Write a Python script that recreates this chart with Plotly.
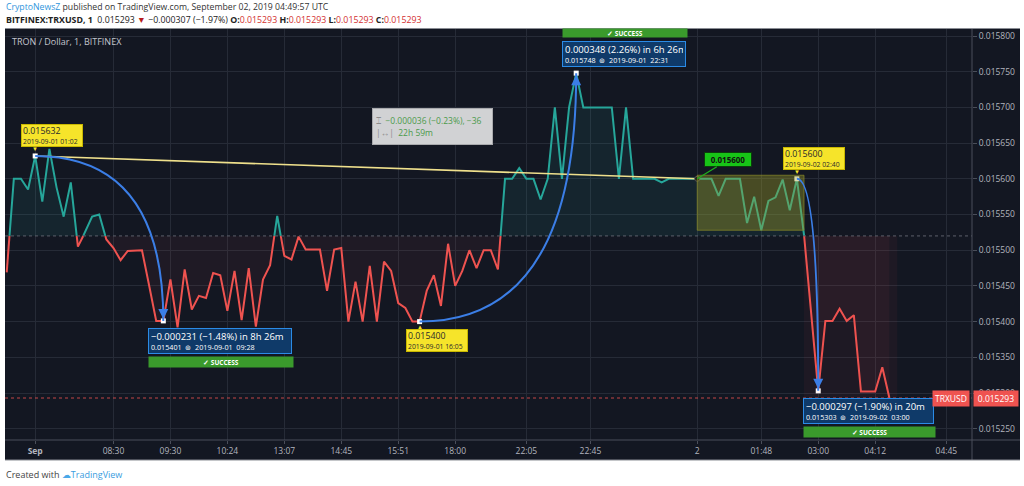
import plotly.graph_objects as go

# ---------------- data ----------------
prices = [
    0.015469, 0.015600, 0.015600, 0.015585, 0.015632, 0.015568, 0.015642, 0.015588, 0.015547, 0.015595,
    0.015505, 0.015525, 0.015547, 0.015550, 0.015515, 0.015503, 0.015486, 0.015499, 0.015500, 0.015500,
    0.015451, 0.015401, 0.015401, 0.015459, 0.015392, 0.015473, 0.015417, 0.015436, 0.015433, 0.015468,
    0.015465, 0.015415, 0.015471, 0.015402, 0.015475, 0.015393, 0.015459, 0.015479, 0.015548, 0.015492,
    0.015487, 0.015519, 0.015501, 0.015501, 0.015501, 0.015443, 0.015501, 0.015503, 0.015400, 0.015456,
    0.015400, 0.015478, 0.015400, 0.015484, 0.015471, 0.015426, 0.015419, 0.015400, 0.015400, 0.015443,
    0.015465, 0.015422, 0.015509, 0.015450, 0.015471, 0.015500, 0.015475, 0.015500, 0.015500, 0.015473,
    0.015600, 0.015600, 0.015615, 0.015600, 0.015600, 0.015571, 0.015600, 0.015700, 0.015600, 0.015700,
    0.015748, 0.015700, 0.015700, 0.015700, 0.015700, 0.015700, 0.015600, 0.015700, 0.015600, 0.015600,
    0.015600, 0.015600, 0.015595, 0.015600, 0.015600, 0.015600, 0.015600, 0.015600, 0.015600, 0.015600,
    0.015576, 0.015600, 0.015600, 0.015600, 0.015538, 0.015575, 0.015528, 0.015569, 0.015574, 0.015599,
    0.015556, 0.015600, 0.015522, 0.015416, 0.015303, 0.015401, 0.015401, 0.015418, 0.015401, 0.015409,
    0.015302, 0.015302, 0.015302, 0.015336, 0.015293,
]
bar_index = list(range(len(prices)))

x_tick_index = [4, 15, 23, 31, 39, 47, 55, 63, 73, 82, 97, 106, 114, 122, 132]
x_tick_labels = ["<b>Sep</b>", "08:30", "09:30", "10:24", "13:07", "14:45", "15:51", "18:00",
                 "22:05", "22:45", "2", "01:48", "03:00", "04:12", "04:45"]
y_tick_values = [0.01525, 0.01530, 0.01535, 0.01540, 0.01545, 0.01550,
                 0.01555, 0.01560, 0.01565, 0.01570, 0.01575, 0.01580]

baseline_price = 0.01552
trend_points = [4, 97]                         # trend line from / to bar
curve_pairs = [(4, 22), (58, 80), (111, 114)]  # curved arrows (from bar, to bar)
rect_bars = [97, 112]
rect_prices = [0.015528, 0.015605]
red_zone_bars = [112, 125.1]

# ---------------- styles ----------------
BG = "#131722"
GRID = "#262b37"
TXT = "#b2b5be"
TEAL = "#26a69a"
RED = "#ef5350"
BLUE = "#3b7ee6"
YEL = "#f6e42a"
FONT = "Open Sans"

X0, X1 = -0.24, 135.6
Y0, Y1 = 0.0152342, 0.0158112
L, R, T, B = 5, 52, 28, 46
W, H = 1024, 486
PW, PH = W - L - R, H - T - B


def px(xp):   # pixel -> paper x
    return (xp - L) / PW


def py(yp):   # pixel -> paper y
    return (H - B - yp) / PH


# ------------- split line at the baseline -------------
xa, ya = [], []
for i in range(len(prices)):
    xa.append(bar_index[i]); ya.append(prices[i])
    if i < len(prices) - 1:
        a, b = prices[i], prices[i + 1]
        if (a - baseline_price) * (b - baseline_price) < 0:
            t = (baseline_price - a) / (b - a)
            xa.append(bar_index[i] + t); ya.append(baseline_price)

upper = [max(v, baseline_price) for v in ya]
lower = [min(v, baseline_price) for v in ya]
up_line = [v if v >= baseline_price else None for v in ya]
lo_line = [v if v <= baseline_price else None for v in ya]
base_arr = [baseline_price] * len(xa)

fig = go.Figure()
fig.add_trace(go.Scatter(x=xa, y=base_arr, mode="lines", line=dict(width=0), hoverinfo="skip", showlegend=False))
fig.add_trace(go.Scatter(x=xa, y=upper, mode="lines", line=dict(width=0), fill="tonexty",
                         fillcolor="rgba(38,166,154,0.10)", hoverinfo="skip", showlegend=False))
fig.add_trace(go.Scatter(x=xa, y=base_arr, mode="lines", line=dict(width=0), hoverinfo="skip", showlegend=False))
fig.add_trace(go.Scatter(x=xa, y=lower, mode="lines", line=dict(width=0), fill="tonexty",
                         fillcolor="rgba(239,83,80,0.06)", hoverinfo="skip", showlegend=False))
fig.add_trace(go.Scatter(x=xa, y=up_line, mode="lines", line=dict(color=TEAL, width=2),
                         hoverinfo="skip", showlegend=False))
fig.add_trace(go.Scatter(x=xa, y=lo_line, mode="lines", line=dict(color=RED, width=2),
                         hoverinfo="skip", showlegend=False))

# trend line
fig.add_trace(go.Scatter(x=[bar_index[i] for i in trend_points], y=[prices[i] for i in trend_points],
                         mode="lines", line=dict(color="#efe08c", width=1.6), hoverinfo="skip", showlegend=False))

shapes = []
shapes.append(dict(type="rect", xref="paper", yref="paper", x0=px(5), x1=px(1020), y0=py(460), y1=py(28),
                   fillcolor=BG, line=dict(width=0), layer="below"))
shapes.append(dict(type="line", xref="paper", yref="y", x0=0, x1=1, y0=baseline_price, y1=baseline_price,
                   line=dict(color="#5d606b", width=1, dash="dot")))
shapes.append(dict(type="line", xref="paper", yref="y", x0=0, x1=1, y0=prices[-1], y1=prices[-1],
                   line=dict(color="rgba(239,83,80,0.8)", width=1, dash="dot")))
shapes.append(dict(type="rect", xref="x", yref="y", x0=red_zone_bars[0], x1=red_zone_bars[1],
                   y0=prices[-1], y1=baseline_price, fillcolor="rgba(239,83,80,0.05)", line=dict(width=0)))
shapes.append(dict(type="rect", xref="x", yref="y", x0=rect_bars[0], x1=rect_bars[1],
                   y0=rect_prices[0], y1=rect_prices[1], fillcolor="rgba(160,160,40,0.38)",
                   line=dict(color="rgba(140,140,40,0.7)", width=1), layer="above"))
for a, b in curve_pairs:
    x0, y0, x1, y1 = bar_index[a], prices[a], bar_index[b], prices[b]
    shapes.append(dict(type="path", xref="x", yref="y",
                       path=f"M {x0},{y0} Q {x1},{y0} {x1},{y1}",
                       line=dict(color=BLUE, width=2)))
shapes.append(dict(type="line", xref="paper", yref="paper", x0=px(5), x1=px(1020), y0=0, y1=0,
                   line=dict(color="#4a4e5a", width=1)))
shapes.append(dict(type="line", xref="paper", yref="paper", x0=1, x1=1, y0=py(460), y1=py(28),
                   line=dict(color="#4a4e5a", width=1)))
shapes.append(dict(type="line", xref="paper", yref="paper", x0=px(5), x1=px(1020), y0=py(28.5), y1=py(28.5),
                   line=dict(color="#8a8d94", width=1)))
shapes.append(dict(type="line", xref="paper", yref="paper", x0=px(5), x1=px(1020), y0=py(460), y1=py(460),
                   line=dict(color="#8a8d94", width=1)))

key_bars = [4, 22, 58, 80, 111, 114]
fig.add_trace(go.Scatter(x=[bar_index[i] for i in key_bars], y=[prices[i] for i in key_bars], mode="markers",
                         marker=dict(color="white", size=5, symbol="square"), hoverinfo="skip", showlegend=False))
fig.add_trace(go.Scatter(x=[bar_index[97]], y=[prices[97]], mode="markers",
                         marker=dict(color="#111", size=5, line=dict(color="#555", width=1)),
                         hoverinfo="skip", showlegend=False))

ann = []


def blue_box(bar, text, sub, width, below, success_width):
    x, y = bar_index[bar], prices[bar]
    body = (f"<span style='font-size:9.5px'>{text}</span><br>"
            f"<span style='font-size:7.2px'>{sub}</span>")
    common = dict(x=x, y=y, xref="x", yref="y", xanchor="left", showarrow=False, align="left",
                  valign="middle", bgcolor="#0f3a69", bordercolor="#2b8be6", borderwidth=1, borderpad=2,
                  width=width, height=20, text=body, font=dict(color="white", size=8.2, family=FONT))
    sc = dict(x=x, y=y, xref="x", yref="y", xanchor="left", text="<b>✓ SUCCESS</b>", showarrow=False,
              bgcolor="#3a9a2c", borderpad=1, width=success_width, font=dict(color="white", size=6.5, family=FONT))
    if below:
        ann.append(dict(common, yanchor="top", xshift=-15, yshift=-7))
        ann.append(dict(sc, yanchor="top", xshift=-15, yshift=-35.5, height=8))
    else:
        ann.append(dict(common, yanchor="bottom", xshift=-14, yshift=6.5))
        ann.append(dict(sc, yanchor="bottom", xshift=-14, yshift=35.5, height=6))


blue_box(22, "−0.000231 (−1.48%) in 8h 26m", "0.015401  ⊚  2019-09-01  09:28", 138, True, 142)
blue_box(80, "0.000348 (2.26%) in 6h 26m", "0.015748  ⊚  2019-09-01  22:31", 118, False, 122)
blue_box(114, "−0.000297 (−1.90%) in 20m", "0.015303  ⊚  2019-09-02  03:00", 125, True, 129)


def yellow_label(bar, date, above):
    x, y = bar_index[bar], prices[bar]
    ann.append(dict(x=x, y=y, xref="x", yref="y", xanchor="left",
                    yanchor="bottom" if above else "top", xshift=-14, yshift=8.5 if above else -7.7,
                    text=(f"<span style='font-size:8.8px'>{prices[bar]:.6f}</span><br>"
                          f"<span style='font-size:6.8px'>{date}</span>"),
                    showarrow=False, align="left", valign="middle", bgcolor=YEL, bordercolor="#c9b800",
                    borderwidth=1, borderpad=1, width=58, height=19,
                    font=dict(color="#2a2a2a", size=7.6, family=FONT)))
    ann.append(dict(x=x, y=y, xref="x", yref="y", text="▼" if above else "▲", showarrow=False,
                    yshift=6.5 if above else -5.5, font=dict(color=YEL, size=6)))


yellow_label(4, "2019-09-01 01:02", True)
yellow_label(58, "2019-09-01 16:05", False)
yellow_label(111, "2019-09-02 02:40", True)

for a, b in curve_pairs:
    up = prices[b] > prices[a]
    ann.append(dict(x=bar_index[b], y=prices[b], xref="x", yref="y", text="", showarrow=True,
                    ax=0, ay=12 if up else -12, arrowhead=2, arrowsize=1, arrowwidth=2,
                    arrowcolor=BLUE, standoff=2))

ann.append(dict(x=bar_index[97], y=prices[97], xref="x", yref="y", text="<b>0.015600</b>", showarrow=True,
                ax=31, ay=-19, arrowhead=0, arrowwidth=1.3, arrowcolor="#1fae1f", xanchor="center",
                yanchor="middle", bgcolor="#17c417", bordercolor="#0c3d0c", borderwidth=1, borderpad=1,
                width=44, font=dict(color="#111", size=8, family=FONT)))

ann.append(dict(x=51.3, y=0.015699, xref="x", yref="y", xanchor="left", yanchor="top",
                text=("<span style='color:#8c8c8c'>⌶</span>  −0.000036 (−0.23%), −36<br>"
                      "<span style='color:#8c8c8c'>|↔|</span>  22h 59m"),
                showarrow=False, align="left", valign="middle", bgcolor="#d1d2d4", bordercolor="#a9aaad",
                borderwidth=1, borderpad=3, width=113, height=29,
                font=dict(color="#4b9a4b", size=8.5, family=FONT)))

ann.append(dict(x=px(970), y=prices[-1], xref="paper", yref="y", xanchor="right", yanchor="middle",
                text="TRXUSD", showarrow=False, bgcolor=RED, borderpad=2,
                font=dict(color="white", size=8.5, family=FONT)))
ann.append(dict(x=px(973), y=prices[-1], xref="paper", yref="y", xanchor="left", yanchor="middle",
                text="0.015293", showarrow=False, bgcolor=RED, borderpad=2, width=40,
                font=dict(color="white", size=8.5, family=FONT)))

ann.append(dict(x=px(10), y=py(42), xref="paper", yref="paper", xanchor="left", yanchor="middle",
                text="TRON / Dollar, 1, BITFINEX", showarrow=False,
                font=dict(color="#c3c6ce", size=9, family=FONT)))
ann.append(dict(x=px(4), y=py(7), xref="paper", yref="paper", xanchor="left", yanchor="middle",
                text="<span style='color:#2f95dc'>CryptoNewsZ</span> published on TradingView.com, September 02, 2019 04:49:57 UTC",
                showarrow=False, font=dict(color="#333", size=8.7, family=FONT)))
val = "<span style='color:#d32f2f'>0.015293</span>"
ann.append(dict(x=px(4), y=py(20), xref="paper", yref="paper", xanchor="left", yanchor="middle",
                text=(f"<b>BITFINEX:TRXUSD, 1</b>  0.015293 <span style='color:#b71c1c'>▼</span> −0.000307 (−1.97%) "
                      f"<b>O:</b>{val} <b>H:</b>{val} <b>L:</b>{val} <b>C:</b>{val}"),
                showarrow=False, font=dict(color="#222", size=8.8, family=FONT)))
ann.append(dict(x=px(4), y=py(474), xref="paper", yref="paper", xanchor="left", yanchor="middle",
                text=("Created with <span style='color:#4aa8e8'>☁</span>"
                      "<span style='color:#3a9de0'>TradingView</span>"),
                showarrow=False, font=dict(color="#444", size=9, family=FONT)))

fig.update_layout(
    width=W, height=H, margin=dict(l=L, r=R, t=T, b=B),
    paper_bgcolor="white", plot_bgcolor=BG,
    shapes=shapes, annotations=ann, showlegend=False, hovermode=False,
    xaxis=dict(range=[X0, X1], tickvals=x_tick_index, ticktext=x_tick_labels, showgrid=True,
               gridcolor=GRID, gridwidth=1, zeroline=False, ticks="outside", ticklen=3, tickcolor="#4a4e5a",
               tickfont=dict(color=TXT, size=8.5, family=FONT), showline=False, fixedrange=True),
    yaxis=dict(range=[Y0, Y1], side="right", tickvals=y_tick_values,
               ticktext=[f"{v:.6f}" for v in y_tick_values], showgrid=True, gridcolor=GRID, gridwidth=1,
               zeroline=False, ticks="outside", ticklen=4, tickcolor="#4a4e5a",
               tickfont=dict(color=TXT, size=8.5, family=FONT), showline=False, fixedrange=True),
)

fig.write_html("out.html", config={"displayModeBar": False},
               post_script="document.body.style.margin='0px';document.body.style.overflow='hidden';")
